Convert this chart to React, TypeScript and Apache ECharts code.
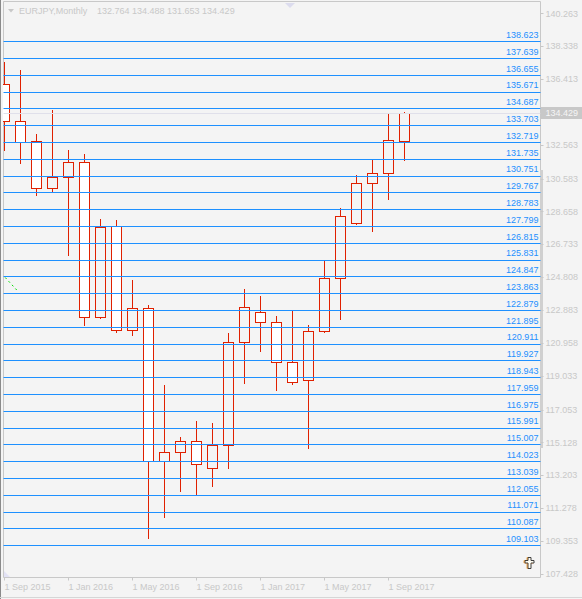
import React, { useEffect, useRef } from "react";
import * as echarts from "echarts";

// EURJPY monthly bars, Sep 2015 .. Oct 2017
const months = [
  "2015-09", "2015-10", "2015-11", "2015-12",
  "2016-01", "2016-02", "2016-03", "2016-04", "2016-05", "2016-06",
  "2016-07", "2016-08", "2016-09", "2016-10", "2016-11", "2016-12",
  "2017-01", "2017-02", "2017-03", "2017-04", "2017-05", "2017-06",
  "2017-07", "2017-08", "2017-09", "2017-10",
];
const opens = [
  136.105, 133.92, 132.748, 129.995, 130.64, 131.518, 122.475, 127.77, 121.678, 122.967,
  114.005, 114.532, 115.177, 113.596, 114.943, 120.975, 122.732, 122.146, 119.804, 118.75,
  121.62, 124.724, 127.945, 130.288, 130.874, 132.764,
];
const highs = [
  137.375, 136.924, 133.176, 134.582, 132.239, 132.004, 128.197, 128.139, 124.624, 123.16,
  118.474, 115.429, 116.366, 116.231, 121.502, 124.097, 123.687, 122.516, 122.867, 121.988,
  125.796, 128.824, 130.757, 131.694, 134.388, 134.488,
];
const lows = [
  132.239, 131.495, 129.621, 129.796, 126.106, 122.006, 122.416, 121.596, 121.403, 109.495,
  110.761, 112.283, 112.032, 112.576, 113.631, 118.609, 120.483, 118.199, 118.55, 114.802,
  121.561, 122.358, 127.9, 127.512, 129.351, 131.653,
];
const closes = [
  133.92, 132.69, 129.995, 130.64, 131.518, 122.475, 127.711, 121.678, 122.967, 114.005,
  114.532, 115.177, 113.829, 114.943, 120.975, 123.025, 122.146, 119.804, 118.633, 121.62,
  124.724, 128.355, 130.288, 130.874, 132.807, 134.429,
];

// horizontal price levels
const levels = [
  109.103, 110.087, 111.071, 112.055, 113.039, 114.023, 115.007, 115.991, 116.975, 117.959,
  118.943, 119.927, 120.911, 121.895, 122.879, 123.863, 124.847, 125.831, 126.815, 127.799,
  128.783, 129.767, 130.751, 131.735, 132.719, 133.703, 134.687, 135.671, 136.655, 137.639,
  138.623,
];

// price scale marks
const priceTicks = [
  140.263, 138.338, 136.413, 134.488, 132.563, 130.583, 128.658, 126.733, 124.808, 122.883,
  120.958, 119.033, 117.053, 115.128, 113.203, 111.278, 109.353, 107.428,
];

// time scale marks (bar index -> label)
const timeTickIndex = [0, 4, 8, 12, 16, 20, 24];
const timeTickLabels = [
  "1 Sep 2015", "1 Jan 2016", "1 May 2016", "1 Sep 2016", "1 Jan 2017", "1 May 2017", "1 Sep 2017",
];

const symbolName = "EURJPY,Monthly";
const lastIdx = months.length - 1;
const lastBar = [opens[lastIdx], highs[lastIdx], lows[lastIdx], closes[lastIdx]];

// short trend segment near the left edge: [barIndex, price]
const trendSegment = [
  [0.044, 124.8],
  [0.79, 124.04],
];

const FONT = "'Liberation Sans', Arial, sans-serif";
const BG = "#f4f4f4";
const GREY = "#c8c8c8";
const RED = "#e02000";
const BLUE = "#1e90ff";
const BODY_HALF = 5;

// snap to pixel centres so 1px strokes stay sharp
const crisp = (v: number) => Math.round(v - 0.5) + 0.5;

function seg(x1: number, y1: number, x2: number, y2: number) {
  return {
    type: "line",
    shape: { x1, y1, x2, y2 },
    style: { stroke: RED, lineWidth: 1, lineCap: "square" },
  };
}

function renderCandle(_params: any, api: any) {
  const x = api.value(0);
  const o = api.value(1);
  const c = api.value(2);
  const l = api.value(3);
  const h = api.value(4);
  const cx = crisp(api.coord([x, o])[0]);
  const yo = crisp(api.coord([x, o])[1]);
  const yc = crisp(api.coord([x, c])[1]);
  const yl = crisp(api.coord([x, l])[1]);
  const yh = crisp(api.coord([x, h])[1]);
  const top = Math.min(yo, yc);
  const bottom = Math.max(yo, yc);
  const left = cx - BODY_HALF;
  const right = cx + BODY_HALF;
  const fill = c > o ? BG : "#ffffff";
  return {
    type: "group",
    children: [
      seg(cx, yh, cx, top),
      seg(cx, bottom, cx, yl),
      {
        type: "rect",
        shape: { x: left, y: top, width: right - left, height: Math.max(bottom - top, 1) },
        style: { fill, stroke: null },
      },
      seg(left, top, right, top),
      seg(left, bottom, right, bottom),
      seg(left, top, left, bottom),
      seg(right, top, right, bottom),
    ],
  };
}

export default function App() {
  const ref = useRef<HTMLDivElement>(null);

  useEffect(() => {
    if (!ref.current) return;
    const chart = echarts.init(ref.current, undefined, { renderer: "svg" });

    const candleData = months.map((_, i) => [i, opens[i], closes[i], lows[i], highs[i]]);

    const levelLines = levels.map((v) => ({
      yAxis: v,
      label: { formatter: v.toFixed(3) },
    }));

    const option = {
      animation: false,
      backgroundColor: BG,
      grid: {
        left: 3.5,
        right: 41.5,
        top: 1.5,
        bottom: 21.5,
        show: true,
        borderColor: GREY,
        borderWidth: 1,
        backgroundColor: "transparent",
      },
      xAxis: {
        type: "value",
        min: -0.0625,
        max: 33.5,
        axisLine: { show: false, onZero: false },
        splitLine: { show: false },
        axisTick: {
          show: true,
          customValues: timeTickIndex,
          length: 3,
          lineStyle: { color: GREY },
        },
        axisLabel: {
          customValues: timeTickIndex,
          formatter: (v: number) => timeTickLabels[timeTickIndex.indexOf(Math.round(v))] ?? "",
          align: "left",
          margin: 5,
          color: GREY,
          fontSize: 9,
          fontFamily: FONT,
        },
      },
      yAxis: {
        type: "value",
        position: "right",
        min: 107.228,
        max: 140.966,
        axisLine: { show: false, onZero: false },
        splitLine: { show: false },
        axisTick: {
          show: true,
          customValues: priceTicks,
          length: 3,
          lineStyle: { color: GREY },
        },
        axisLabel: {
          customValues: priceTicks,
          formatter: (v: number) => v.toFixed(3),
          margin: 5,
          color: GREY,
          fontSize: 9,
          fontFamily: FONT,
        },
      },
      series: [
        {
          type: "custom",
          name: symbolName,
          data: candleData,
          encode: { x: 0, y: [1, 2, 3, 4] },
          renderItem: renderCandle,
          clip: true,
          silent: true,
          markLine: {
            silent: true,
            symbol: ["none", "none"],
            precision: 3,
            lineStyle: { color: BLUE, width: 1, type: "solid" },
            label: {
              show: true,
              position: "insideEndTop",
              distance: [2, 2],
              color: BLUE,
              fontSize: 9,
              fontFamily: FONT,
            },
            data: [
              ...levelLines,
              {
                yAxis: lastBar[3],
                lineStyle: { color: "#e0e0ea", width: 1, type: "solid" },
                label: {
                  position: "end",
                  distance: 0,
                  formatter: lastBar[3].toFixed(3),
                  color: "#f6f6f6",
                  backgroundColor: GREY,
                  padding: [2, 6, 1, 5],
                  fontSize: 9,
                  fontFamily: FONT,
                },
              },
              [
                {
                  coord: trendSegment[0],
                  lineStyle: { color: "#00dd00", width: 1, type: [2, 3] },
                  label: { show: false },
                },
                { coord: trendSegment[1] },
              ],
            ],
          },
        },
      ],
      graphic: [
        // window edges
        { type: "rect", left: 0, top: 0, shape: { width: 1, height: 599 }, style: { fill: "#8a8a8a" }, silent: true },
        { type: "rect", left: 0, top: 597, shape: { width: 582, height: 1 }, style: { fill: "#d6d6d6" }, silent: true },
        // scroll marker on the price scale edge
        { type: "rect", left: 540, top: 170, shape: { width: 3, height: 278 }, style: { fill: "#d0d0d0" }, silent: true },
        // header
        {
          type: "polygon",
          shape: { points: [[8, 9], [14, 9], [11, 12.5]] },
          style: { fill: GREY },
          silent: true,
        },
        {
          type: "text",
          x: 19,
          y: 11,
          style: {
            text: symbolName,
            fill: GREY,
            font: `9px ${FONT}`,
            verticalAlign: "middle",
          },
          silent: true,
        },
        {
          type: "text",
          x: 97,
          y: 11,
          style: {
            text: lastBar.map((v) => v.toFixed(3)).join(" "),
            fill: GREY,
            font: `9px ${FONT}`,
            verticalAlign: "middle",
          },
          silent: true,
        },
        // chart shift marker
        {
          type: "polygon",
          shape: { points: [[285, 3], [295, 3], [290, 8]] },
          style: { fill: "#dcdcee" },
          silent: true,
        },
        // corner marker
        {
          type: "polygon",
          shape: { points: [[4, 571], [4, 577], [10, 577]] },
          style: { fill: "#e2e2f4" },
          silent: true,
        },
        // cross icon
        {
          type: "polygon",
          shape: {
            points: [
              [528, 557.5], [531, 557.5], [531, 560.5], [534, 560.5], [534, 563],
              [531, 563], [531, 568.5], [528, 568.5], [528, 563], [525, 563],
              [525, 560.5], [528, 560.5],
            ],
          },
          style: { fill: "#fffdf2", stroke: "#3c3c3c", lineWidth: 1, shadowColor: "rgba(230,150,40,0.8)", shadowOffsetX: -1, shadowOffsetY: 0 },
          silent: true,
        },
      ],
    };

    chart.setOption(option as any);
    return () => chart.dispose();
  }, []);

  return (
    <div
      ref={ref}
      style={{ position: "fixed", left: 0, top: 0, width: 582, height: 599, background: BG }}
    />
  );
}
